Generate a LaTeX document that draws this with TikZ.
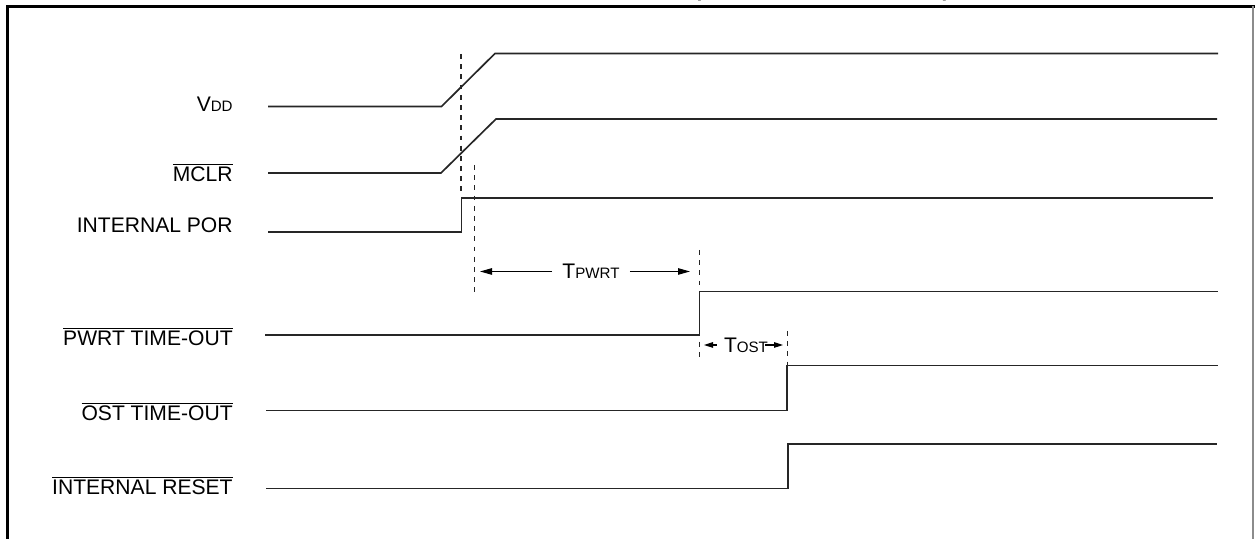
\documentclass[tikz,border=0pt]{standalone}
\usepackage{fontspec}
\setmainfont{Liberation Sans}
\usetikzlibrary{arrows.meta}

\newcommand{\smallcap}[1]{{\fontsize{8.6}{10}\selectfont #1}}
\newcommand{\barred}[1]{$\overline{\mbox{#1}}$}

\begin{document}
\begin{tikzpicture}[
        signal/.style = {line width=0.95pt, black!85},
        marker/.style = {line width=0.6pt, black!85, dash pattern=on 2.8pt off 3pt},
        lbl/.style = {anchor=base east, inner sep=0pt, font=\fontsize{12}{14}\selectfont},
        span/.style = {line width=0.6pt, arrows = -{Triangle[length=0.24cm,width=0.13cm]}},
        shortspan/.style = {line width=0.6pt, arrows = -{Triangle[length=0.18cm,width=0.11cm]}}
    ]

            \useasboundingbox (0,0) rectangle (25.1,10.78);
            %\draw [help lines] (0,0) grid (25,10);

            % frame
            \draw[line width=1.7pt] (0.15,0) -- (0.15,10.65) -- (25.1,10.65);
            \draw[line width=0.6pt, black!45] (25.06,10.65) -- (25.06,0);
            \path (16.44,10.845) node (title) [anchor=base, inner sep=0pt, font=\bfseries\fontsize{12}{14}\selectfont] {(\barred{MCLR} NOT TIED TO V\smallcap{DD})};

            \path   (4.66,8.54) node (vdd) [lbl] {V\smallcap{DD}}
                    (4.66,7.14) node (mclr) [lbl] {\barred{MCLR}}
                    (4.66,6.12) node (por) [lbl] {INTERNAL POR}
                    (4.66,3.87) node (pwrt) [lbl] {\barred{PWRT TIME-OUT}}
                    (4.66,2.37) node (ost) [lbl] {\barred{OST TIME-OUT}}
                    (4.66,0.88) node (reset) [lbl] {\barred{INTERNAL RESET}};

            % waveforms
            \draw[signal] (5.36,8.65) -- (8.83,8.65) -- (9.90,9.71) -- (24.36,9.71);
            \draw[signal] (5.36,7.32) -- (8.82,7.32) -- (9.92,8.40) -- (24.34,8.40);
            \draw[signal] (5.36,6.14) -- (9.23,6.14) -- (9.23,6.82) -- (24.26,6.82);
            \draw[signal] (5.30,4.08) -- (13.99,4.08) -- (13.99,4.95) -- (24.36,4.95);
            \draw[signal] (5.32,2.57) -- (15.74,2.57) -- (15.74,3.47) -- (24.36,3.47);
            \draw[signal] (5.32,1.01) -- (15.76,1.01) -- (15.76,1.90) -- (24.34,1.90);

            % time markers
            \draw[marker] (9.22,9.70) -- (9.22,6.88);
            \draw[marker] (9.49,7.48) -- (9.49,4.84);
            \draw[marker] (13.99,5.78) -- (13.99,3.60);
            \draw[marker] (15.75,4.16) -- (15.75,3.34);

            % intervals
            \coordinate (pwrtstart) at (9.60,5.35);
            \coordinate (pwrtend) at (13.80,5.35);
            \coordinate (oststart) at (14.08,3.88);
            \coordinate (ostend) at (15.66,3.88);
            \path   (11.82,5.35) node (tpwrt) [inner xsep=0.2cm, inner ysep=0pt, font=\fontsize{12}{14}\selectfont] {T\smallcap{PWRT}}
                    (14.92,3.88) node (tost) [inner xsep=0.14cm, inner ysep=0pt, font=\fontsize{12}{14}\selectfont] {T\smallcap{OST}};
            \draw[span] (tpwrt) -- (pwrtstart);
            \draw[span] (tpwrt) -- (pwrtend);
            \draw[shortspan] (tost) -- (oststart);
            \draw[shortspan] ([xshift=-0.2cm]tost.east) -- (ostend);
\end{tikzpicture}
\end{document}
